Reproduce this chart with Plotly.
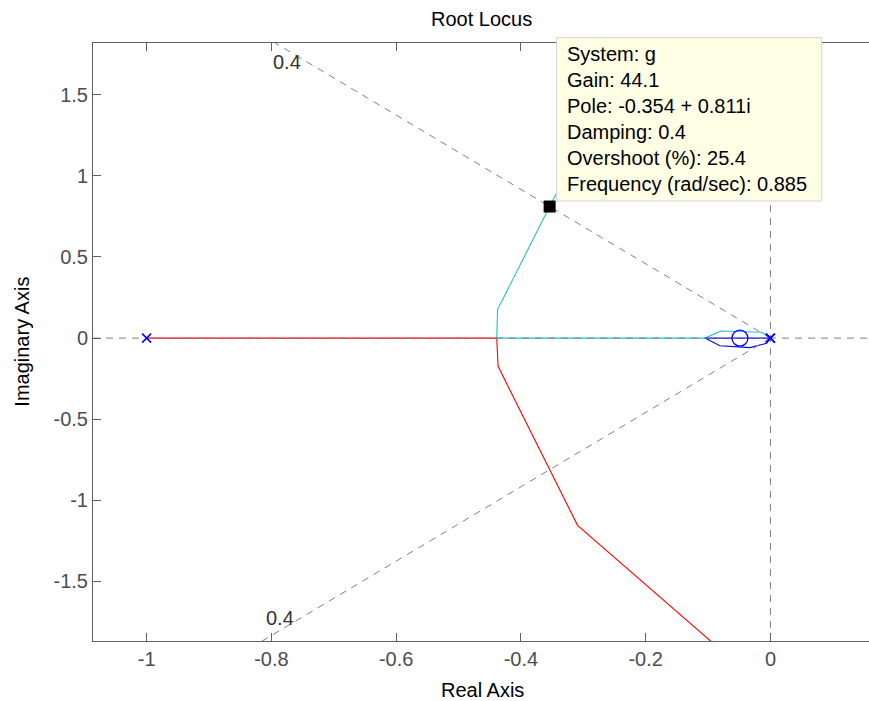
import math
import plotly.graph_objects as go

# ---------------- data ----------------
pole_re = [-1.0, 0.0, 0.0]
pole_im = [0.0, 0.0, 0.0]
zero_re = [-0.0489]
zero_im = [0.0]

# branch 1 (red): from pole at -1 along real axis, breakaway, lower half plane
red_re = [-1.0, -0.4387, -0.4366, -0.3092, -0.089]
red_im = [0.0, 0.0, -0.1739, -1.1541, -1.89]

# branch 2 (cyan): from pole at 0, upper loop, break-in, left along real axis, upper half plane
cyan_re = [0.0, -0.0141, -0.0794, -0.105, -0.4387, -0.4375, -0.354, -0.330]
cyan_im = [0.0, 0.0358, 0.0438, 0.0, 0.0, 0.1757, 0.811, 0.99]

# branch 3 (blue): from pole at 0, lower loop, back along real axis
blue_re = [0.0, -0.0061, -0.0329, -0.081, -0.105, 0.0]
blue_im = [0.0, -0.032, -0.0586, -0.0475, 0.0, 0.0]

# selected point (data tip)
sel_re = [-0.354]
sel_im = [0.811]
tip_lines = ["System: g", "Gain: 44.1", "Pole: -0.354 + 0.811i", "Damping: 0.4",
             "Overshoot (%): 25.4", "Frequency (rad/sec): 0.885"]

zeta = 0.4
x_range = [-1.086, 0.158]
y_range = [-1.867, 1.819]
x_ticks = [-1, -0.8, -0.6, -0.4, -0.2, 0]
x_tick_text = ["-1", "-0.8", "-0.6", "-0.4", "-0.2", "0"]
y_ticks = [-1.5, -1, -0.5, 0, 0.5, 1, 1.5]
y_tick_text = ["-1.5", "-1", "-0.5", "0", "0.5", "1", "1.5"]

# ---------------- layout geometry ----------------
W, H = 869, 701
L, R, T, B = 93.3, 869.0, 42.7, 640.6
FONT = "Liberation Sans, Arial, sans-serif"


def px2paper_x(px):
    return (px - L) / (R - L)


def px2paper_y(py):
    return (B - py) / (B - T)


fig = go.Figure()

line_w = 1.1
fig.add_trace(go.Scatter(x=red_re, y=red_im, mode="lines",
                         line=dict(color="#ff0000", width=line_w), hoverinfo="skip"))
fig.add_trace(go.Scatter(x=cyan_re, y=cyan_im, mode="lines",
                         line=dict(color="#1fc3c3", width=line_w), hoverinfo="skip"))
fig.add_trace(go.Scatter(x=blue_re, y=blue_im, mode="lines",
                         line=dict(color="#0000ff", width=line_w), hoverinfo="skip"))

# dashed grid: real axis, imaginary axis, damping lines
dash_style = dict(color="#808080", width=1, dash="7px,6px")
fig.add_trace(go.Scatter(x=x_range, y=[0, 0], mode="lines", line=dash_style, hoverinfo="skip"))
fig.add_trace(go.Scatter(x=[0, 0], y=y_range, mode="lines", line=dash_style, hoverinfo="skip"))
wn = math.sqrt(1 - zeta ** 2)
ext = 2.2
fig.add_trace(go.Scatter(x=[0, -zeta * ext], y=[0, wn * ext], mode="lines",
                         line=dash_style, hoverinfo="skip"))
fig.add_trace(go.Scatter(x=[0, -zeta * ext], y=[0, -wn * ext], mode="lines",
                         line=dash_style, hoverinfo="skip"))

# poles and zeros
fig.add_trace(go.Scatter(x=pole_re, y=pole_im, mode="markers",
                         marker=dict(symbol="x-thin", size=9,
                                     line=dict(color="#0000ff", width=1.5)),
                         hoverinfo="skip"))
fig.add_trace(go.Scatter(x=zero_re, y=zero_im, mode="markers",
                         marker=dict(symbol="circle-open", size=16,
                                     line=dict(color="#0000ff", width=1.3), color="#0000ff"),
                         hoverinfo="skip"))
fig.add_trace(go.Scatter(x=sel_re, y=sel_im, mode="markers",
                         marker=dict(symbol="square", size=12, color="black",
                                     line=dict(width=0)),
                         hoverinfo="skip"))

# damping labels
fig.add_annotation(x=-0.7747, y=1.7047, text=str(zeta), showarrow=False,
                   font=dict(family=FONT, size=20, color="#333333"))
fig.add_annotation(x=-0.7862, y=-1.7232, text=str(zeta), showarrow=False,
                   font=dict(family=FONT, size=20, color="#333333"))

# data tip box
fig.add_shape(type="rect", xref="paper", yref="paper",
              x0=px2paper_x(556.7), x1=px2paper_x(821.7),
              y0=px2paper_y(200.7), y1=px2paper_y(37.3),
              fillcolor="#ffffe6", line=dict(color="#d4d4d4", width=1), layer="above")
for i, s in enumerate(tip_lines):
    fig.add_annotation(xref="paper", yref="paper", x=px2paper_x(565), y=px2paper_y(54.0 + 26 * i),
                       xanchor="left", yanchor="middle", text=s, showarrow=False,
                       font=dict(family=FONT, size=20, color="black"))

# titles
fig.add_annotation(xref="paper", yref="paper", x=0.5, y=px2paper_y(19.0), text="Root Locus",
                   showarrow=False, xanchor="center", yanchor="middle",
                   font=dict(family=FONT, size=20, color="black"))
fig.add_annotation(xref="paper", yref="paper", x=px2paper_x(483), y=px2paper_y(689.5), text="Real Axis",
                   showarrow=False, xanchor="center", yanchor="middle",
                   font=dict(family=FONT, size=20, color="black"))
fig.add_annotation(xref="paper", yref="paper", x=px2paper_x(22), y=0.5, text="Imaginary Axis",
                   showarrow=False, xanchor="center", yanchor="middle", textangle=-90,
                   font=dict(family=FONT, size=20, color="black"))

axis_col = "#606060"
fig.update_xaxes(range=x_range, tickvals=x_ticks, ticktext=x_tick_text,
                 showgrid=False, zeroline=False, showline=True, linecolor=axis_col, linewidth=1,
                 mirror="ticks", ticks="inside", ticklen=8, tickcolor=axis_col, tickwidth=1,
                 tickfont=dict(family=FONT, size=20, color="#4d4d4d"), ticklabelstandoff=0)
fig.update_yaxes(range=y_range, tickvals=y_ticks, ticktext=y_tick_text,
                 showgrid=False, zeroline=False, showline=True, linecolor=axis_col, linewidth=1,
                 mirror=False, ticks="inside", ticklen=8, tickcolor=axis_col, tickwidth=1,
                 tickfont=dict(family=FONT, size=20, color="#4d4d4d"), ticklabelstandoff=0)

fig.update_layout(width=W, height=H, showlegend=False,
                  margin=dict(l=L, r=W - R, t=T, b=H - B, pad=0),
                  plot_bgcolor="white", paper_bgcolor="white")

# remove the default 8px body margin so the figure fills the window exactly
fig.write_html("out.html",
               config={"displayModeBar": False, "staticPlot": True},
               post_script="document.body.style.margin='0px';document.body.style.overflow='hidden';")
